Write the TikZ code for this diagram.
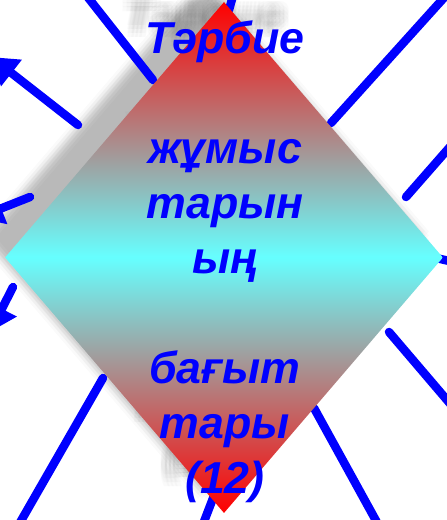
\documentclass[tikz,border=0pt]{standalone}
\usepackage{fontspec}
\setmainfont{Liberation Sans}
\usetikzlibrary{shapes.geometric,arrows.meta}

\begin{document}
\begin{tikzpicture}[
    x=1pt, y=-1pt,
    rhomb/.style={diamond, inner sep=0pt, minimum width=438pt, minimum height=511pt},
    core/.style={rhomb, top color=red, bottom color=red, middle color=cyan!60!white},
    ghost/.style={rhomb, fill=black, draw=none, opacity=0.018},
    caption/.style={align=center, inner sep=0pt, anchor=base, text=blue, font=\fontsize{44.7}{55}\selectfont\bfseries\itshape},
    ghosttext/.style={caption, text=black, opacity=0.018},
    link/.style={draw=blue, line width=8.5pt, line cap=round},
    pointer/.style={link, -{Triangle[width=32pt,length=26pt]}}
]
\useasboundingbox (0,0) rectangle (447,520);
\clip (0,0) rectangle (447,520);

% Soft shadow of the diamond and its text
\foreach \dx in {-6,-2,2,6} {
    \foreach \dy in {-6,-2,2,6} {
        \node[ghost] (ghost-\dx-\dy) at (204+\dx,237.5+\dy) {};
        \node[ghosttext] (ghosttext-\dx-\dy) at (205+\dx,471+\dy)
            {Тәрбие\\~\\жұмыс\\тарын\\ың\\~\\бағыт\\тары\\(12)};
    }
}

% Line ends
\coordinate (nw-a) at (153,80);  \coordinate (nw-b) at (75,-19);
\coordinate (ul-a) at (78,125);  \coordinate (ul-b) at (-9,57);
\coordinate (wl-a) at (30,197);  \coordinate (wl-b) at (-23,218);
\coordinate (sl-a) at (13,287);  \coordinate (sl-b) at (-10,332);
\coordinate (sw-a) at (103,378); \coordinate (sw-b) at (10,540);
\coordinate (s-a) at (220,480);  \coordinate (s-b) at (195,545);
\coordinate (se-a) at (314,408); \coordinate (se-b) at (385,537);
\coordinate (er-a) at (389,332); \coordinate (er-b) at (470,427);
\coordinate (e-a) at (436,258);  \coordinate (e-b) at (480,268);
\coordinate (ne-a) at (406,197); \coordinate (ne-b) at (470,124);
\coordinate (nr-a) at (331,123); \coordinate (nr-b) at (460,-20);
\coordinate (n-a) at (229,10);   \coordinate (n-b) at (236,-15);

% Radiating lines
\draw[link] (nw-a) -- (nw-b);
\draw[pointer] (ul-a) -- (ul-b);
\draw[pointer] (wl-a) -- (wl-b);
\draw[pointer] (sl-a) -- (sl-b);
\draw[link] (sw-a) -- (sw-b);
\draw[link] (s-a) -- (s-b);
\draw[link] (se-a) -- (se-b);
\draw[link] (er-a) -- (er-b);
\draw[link] (e-a) -- (e-b);
\draw[link] (ne-a) -- (ne-b);
\draw[link] (nr-a) -- (nr-b);
\draw[link] (n-a) -- (n-b);

% Central diamond
\node[core] (centre) at (224,257.5) {};
\node[caption] (title) at (225,493)
    {Тәрбие\\~\\жұмыс\\тарын\\ың\\~\\бағыт\\тары\\(12)};

\end{tikzpicture}
\end{document}
